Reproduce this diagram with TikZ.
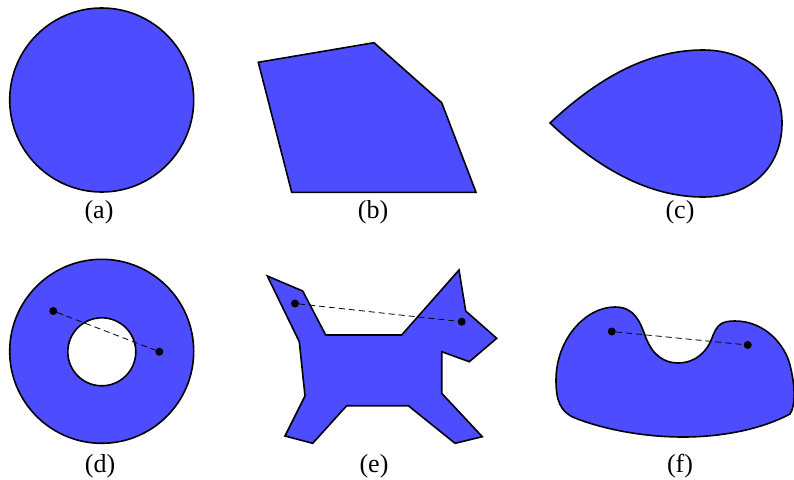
\documentclass[tikz,border=0pt]{standalone}
\usepackage{fontspec}
\setmainfont{Liberation Serif}
\usetikzlibrary{positioning, calc}
\definecolor{regionblue}{RGB}{77,77,255}

\begin{document}
\begin{tikzpicture}[
  x=1pt, y=-1pt,
  font=\fontsize{26}{30}\selectfont,
  %--- region and label styles ---
  region/.style={
    draw=black, fill=regionblue,
    line width=1.6pt, line join=miter
  },
  sublbl/.style={
    inner sep=0pt, anchor=center
  },
  endpt/.style={
    circle, fill=black, inner sep=0pt, minimum size=8pt
  },
  chord/.style={
    draw=black, line width=0.8pt, dash pattern=on 6pt off 4pt
  }
]
\useasboundingbox (0,0) rectangle (794,479);

%------------------------------------------------------------------
%  Top row
%------------------------------------------------------------------
% (a) disc
\draw[region] (101.7,100) circle[radius=92];

% (b) convex polygon
\draw[region] (258.3,62.3) -- (374,42.7) -- (441.7,102.7)
  -- (476,192.3) -- (291.7,192.3) -- cycle;

% (c) drop
\draw[region] (550,123)
  .. controls (600,76) and (650,50) .. (703,50)
  .. controls (752,50) and (782,82) .. (782,123)
  .. controls (782,168) and (750,197) .. (703,197)
  .. controls (650,197) and (600,170) .. (550,123) -- cycle;

\node[sublbl] (lbla) at (99,212.5) {(a)};
\node[sublbl] (lblb) at (373,212.5) {(b)};
\node[sublbl] (lblc) at (680,212.5) {(c)};

%------------------------------------------------------------------
%  Bottom row
%------------------------------------------------------------------
% (d) annulus
\fill[regionblue, even odd rule]
  (101.7,351.3) circle[radius=92] (101.8,351.8) circle[radius=34];
\draw[line width=1.6pt] (101.7,351.3) circle[radius=92];
\draw[line width=1.6pt] (101.8,351.8) circle[radius=34];
\node[endpt] (d1) at (53.3,311) {};
\node[endpt] (d2) at (159.3,351.7) {};
\draw[chord] (d1) -- (d2);

% (e) dog
\draw[region] (267.3,276) -- (302.7,291) -- (325.7,335) -- (401.7,335)
  -- (459,270) -- (465.7,311) -- (496.7,338.3) -- (469.3,361.7)
  -- (441.7,351.7) -- (441.7,393.3) -- (482.3,436.7) -- (455,443.3)
  -- (408.3,405.7) -- (346.7,405.7) -- (312.7,443.3) -- (285,436)
  -- (305,396) -- (299.3,341.7) -- cycle;
\node[endpt] (e1) at (295,303.5) {};
\node[endpt] (e2) at (461.7,321.7) {};
\draw[chord] (e1) -- (e2);

% (f) blob with a dent
\draw[region] (556,380)
  .. controls (556,340) and (585,307) .. (615,307)
  .. controls (635,307) and (640,322) .. (646,338)
  .. controls (653,356) and (665,363) .. (678,363)
  .. controls (695,363) and (707,352) .. (712,338)
  .. controls (717,324) and (722,321) .. (735,321)
  .. controls (765,321) and (785,345) .. (790,365)
  .. controls (795,385) and (796,405) .. (790,414)
  .. controls (760,430) and (720,437) .. (683,437)
  .. controls (640,437) and (600,428) .. (575,418)
  .. controls (560,412) and (556,400) .. (556,380) -- cycle;
\node[endpt] (f1) at (611.7,331.5) {};
\node[endpt] (f2) at (747.7,345) {};
\draw[chord] (f1) -- (f2);

\node[sublbl] (lbld) at (100,466) {(d)};
\node[sublbl] (lble) at (374,466) {(e)};
\node[sublbl] (lblf) at (680,466) {(f)};

\end{tikzpicture}
\end{document}
